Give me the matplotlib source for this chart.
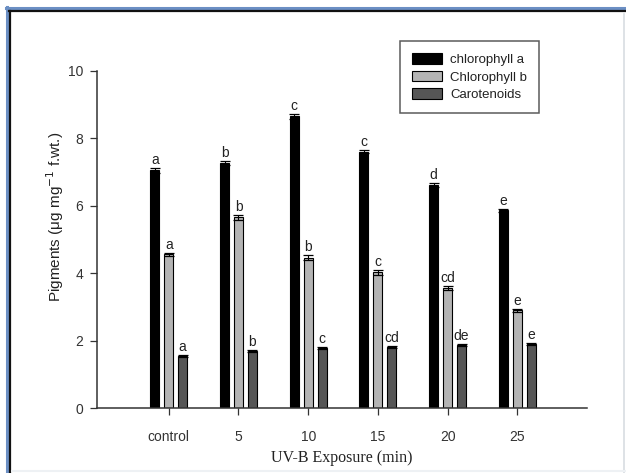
import numpy as np
import matplotlib.pyplot as plt
from matplotlib.lines import Line2D
from matplotlib.patches import Patch

# pigment content under UV-B exposure
groups = ['control', '5', '10', '15', '20', '25']
chl_a = [7.05, 7.27, 8.65, 7.61, 6.62, 5.87]
chl_b = [4.56, 5.66, 4.46, 4.03, 3.57, 2.90]
carot = [1.55, 1.69, 1.77, 1.80, 1.86, 1.89]
err_a = [0.07, 0.06, 0.08, 0.04, 0.07, 0.04]
err_b = [0.05, 0.08, 0.07, 0.07, 0.06, 0.04]
err_c = [0.03, 0.03, 0.03, 0.03, 0.03, 0.03]
let_a = ['a', 'b', 'c', 'c', 'd', 'e']
let_b = ['a', 'b', 'b', 'c', 'cd', 'e']
let_c = ['a', 'b', 'c', 'cd', 'de', 'e']

W, H = 626, 473
fig = plt.figure(figsize=(W / 100, H / 100), dpi=100)
fig.patch.set_facecolor('white')

# outer frame
def hline(y, x0, x1, **kw):
    fig.add_artist(Line2D([x0 / W, x1 / W], [1 - y / H, 1 - y / H], transform=fig.transFigure, **kw))

def vline(x, y0, y1, **kw):
    fig.add_artist(Line2D([x / W, x / W], [1 - y0 / H, 1 - y1 / H], transform=fig.transFigure, **kw))

hline(8, 6, W, color='#6b8fc4', lw=2.2)
vline(6.5, 7, H, color='#6b8fc4', lw=2.2)
hline(11.5, 9, W, color='#111111', lw=1.6)
vline(10, 11, H, color='#111111', lw=1.6)
vline(624, 14, H, color='#d8dde2', lw=1.2)
hline(471, 12, W, color='#eef1f4', lw=1.5)

ax = fig.add_axes([97 / W, 1 - 408 / H, (587 - 97) / W, (408 - 71) / H])
sans = 'Liberation Sans'
txtcol = '#222222'

x = np.arange(len(groups))
bw = 0.13
off = 0.2
series = [(chl_a, err_a, let_a, '#000000', 'chlorophyll a'),
          (chl_b, err_b, let_b, '#b4b4b4', 'Chlorophyll b'),
          (carot, err_c, let_c, '#565656', 'Carotenoids')]

for k, (vals, errs, lets, col, lab) in enumerate(series):
    pos = x + (k - 1) * off
    ax.bar(pos, vals, width=bw, color=col, edgecolor='black', linewidth=0.8, label=lab)
    ax.errorbar(pos, vals, yerr=errs, fmt='none', ecolor='black', elinewidth=0.8,
                capsize=3.5, capthick=0.9)
    for p, v, e, t in zip(pos, vals, errs, lets):
        ax.text(p, v + e + 0.03, t, ha='center', va='bottom', fontsize=10,
                family=sans, color=txtcol)

ax.set_xlim(-1.03, 6.0)
ax.set_ylim(0, 10)
ax.set_xticks(x)
ax.set_xticklabels(groups, family=sans, fontsize=10, color=txtcol)
ax.set_yticks([0, 2, 4, 6, 8, 10])
ax.set_yticklabels(['0', '2', '4', '6', '8', '10'], family=sans, fontsize=10, color=txtcol)
ax.tick_params(axis='both', direction='out', length=5, width=0.9, colors='#333333')
ax.tick_params(axis='x', pad=11)
ax.tick_params(axis='y', pad=5)
for s in ['top', 'right']:
    ax.spines[s].set_visible(False)
for s in ['left', 'bottom']:
    ax.spines[s].set_linewidth(1.1)
    ax.spines[s].set_color('#333333')

ax.set_xlabel('UV-B Exposure (min)', family='Liberation Serif', fontsize=11.5, labelpad=4,
              color=txtcol)
fig.text(55 / W, 1 - 217 / H, r'Pigments ($\mathregular{\mu}$g mg$^{-1}$ f.wt.)',
         rotation=90, ha='center', va='center', fontsize=11, family=sans, color=txtcol)

handles = [Patch(facecolor=c, edgecolor='black', linewidth=0.8) for c in ['#000000', '#b4b4b4', '#565656']]
leg = ax.legend(handles, ['chlorophyll a', 'Chlorophyll b', 'Carotenoids'],
                loc='upper left', bbox_to_anchor=((400 - 97) / (587 - 97), 1 + (71 - 41) / (408 - 71)),
                borderaxespad=0, prop={'family': sans, 'size': 9.5}, frameon=True, fancybox=False,
                handlelength=2.3, handleheight=0.9, labelspacing=0.35, borderpad=0.9,
                handletextpad=0.6)
leg.get_frame().set_edgecolor('#333333')
leg.get_frame().set_linewidth(1.1)
for t in leg.get_texts():
    t.set_color(txtcol)

fig.savefig('out.png', dpi=100)
